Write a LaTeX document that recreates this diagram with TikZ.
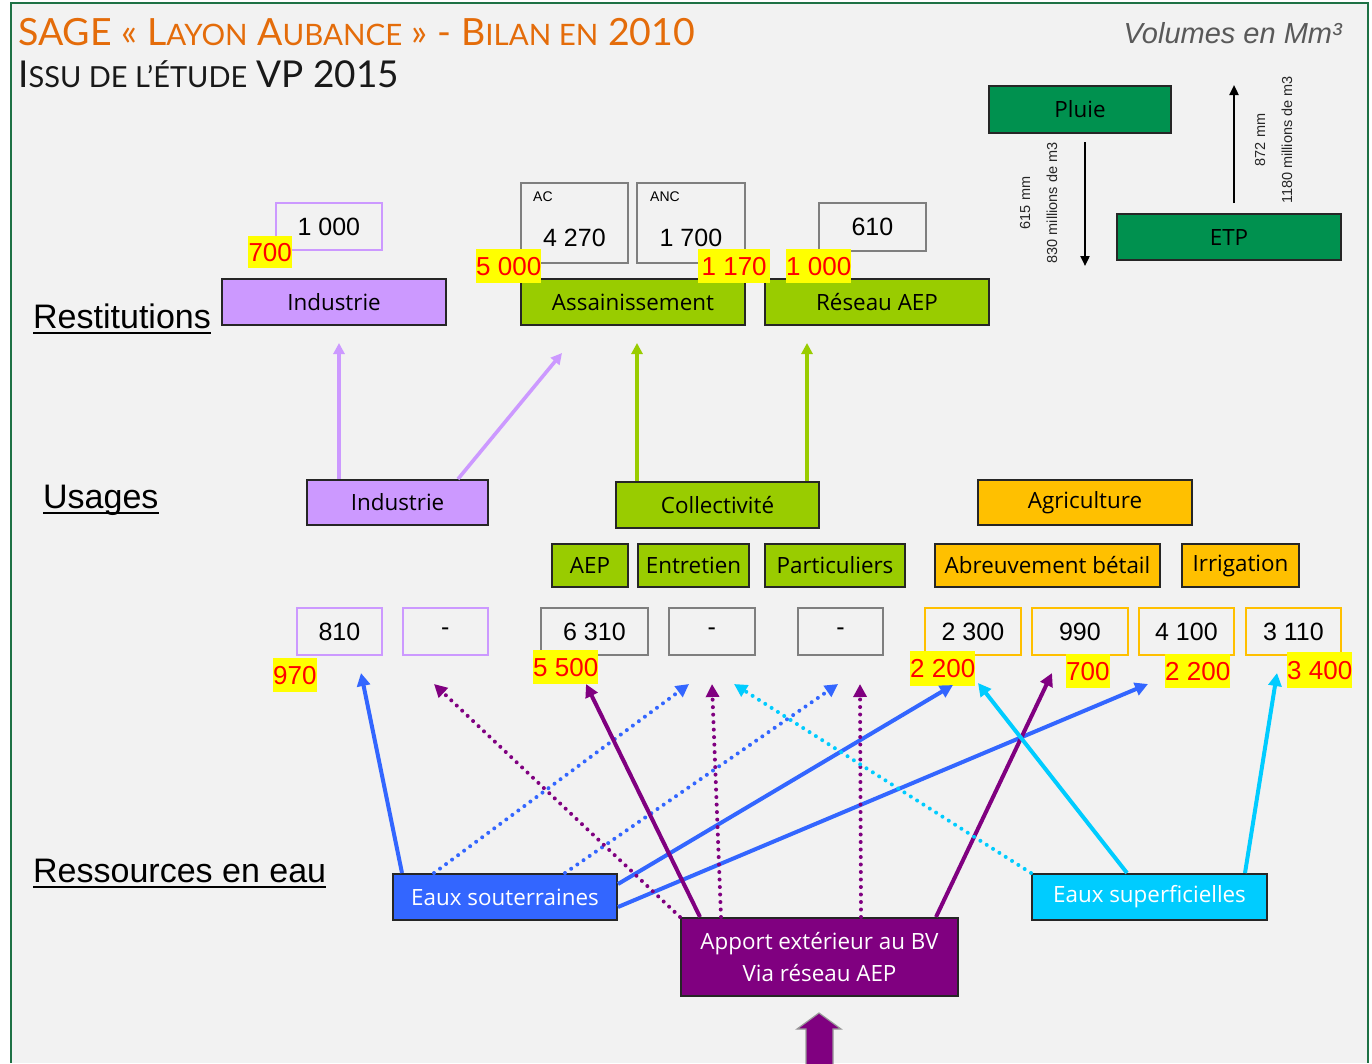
\documentclass[tikz,border=0pt]{standalone}
\usepackage{fontspec}
\setmainfont{Liberation Sans}
\newfontfamily\osans{Open Sans}
\newfontfamily\lato{Lato}
\usetikzlibrary{arrows.meta,calc}
\definecolor{bg}{HTML}{F2F2F2}
\definecolor{frame}{HTML}{1E7145}
\definecolor{ttl}{HTML}{E46C0A}
\definecolor{cpurple}{HTML}{CC99FF}
\definecolor{cgreen}{HTML}{99CC00}
\definecolor{cgold}{HTML}{FFC000}
\definecolor{cblue}{HTML}{3366FF}
\definecolor{ccyan}{HTML}{00CCFF}
\definecolor{cviolet}{HTML}{800080}
\definecolor{cdark}{HTML}{00914F}
\definecolor{boxline}{HTML}{262626}
\definecolor{vline}{HTML}{7F7F7F}
\definecolor{hly}{HTML}{FFFF00}
\definecolor{hlr}{HTML}{FF0000}
\newcommand\boxfont{\osans\fontsize{22.4}{26}\selectfont}
\newcommand\valfont{\fontsize{25}{28}\selectfont}
\newcommand\hlfont{\fontsize{26}{28}\selectfont}
\newcommand\secfont{\fontsize{34}{36}\selectfont}
\newcommand\rotfont{\fontsize{14.5}{16}\selectfont}
\newcommand\bigT{\fontsize{37.5}{40}\selectfont}
\newcommand\smT{\fontsize{29.5}{40}\selectfont}
\newcommand\bigU{\fontsize{37}{40}\selectfont}
\newcommand\smU{\fontsize{29}{40}\selectfont}
\tikzset{
  cbox/.style={draw=boxline, line width=2pt, anchor=north west, inner sep=0pt, font=\boxfont, align=center},
  vbox/.style={draw=vline, line width=1.8pt, fill=bg, anchor=north west, inner sep=0pt, font=\valfont, minimum height=47pt},
  hl/.style={fill=hly, text=hlr, anchor=north west, inner sep=0pt, font=\hlfont},
  sec/.style={anchor=base west, inner sep=0pt, font=\secfont},
  rot/.style={rotate=90, inner sep=0pt, font=\rotfont, text=black!85},
  up/.style={line width=3.6pt, -{Triangle[length=11pt,width=11pt]}},
  arr/.style={line width=4pt, -{Triangle[length=13pt,width=13pt]}},
  dotl/.style={arr, line cap=round, dash pattern=on 0pt off 7.5pt},
}
\begin{document}
\begin{tikzpicture}[x=1pt,y=-1pt]
\useasboundingbox (0,0) rectangle (1372,1063);
\fill[white] (0,0) rectangle (1372,1063);
\fill[bg] (11,3) rectangle (1368,1063);
\draw[frame, line width=2.2pt] (11,1063) -- (11,3) -- (1368,3) -- (1368,1063);

% titles
\node[anchor=base west, inner sep=0pt, text=ttl, font=\lato] (t1) at (18,45)
  {\bigT SAGE « L\smT AYON\bigT{} A\smT UBANCE\bigT{} » - B\smT ILAN EN\bigT{} 2010};
\node[anchor=base west, inner sep=0pt, text=black!90, font=\lato] (t2) at (18,87)
  {\bigU I\smU SSU DE L’ÉTUDE\bigU{} VP 2015};
\node[anchor=base east, inner sep=0pt, text=black!65, font=\fontsize{29}{30}\selectfont\itshape] (vol) at (1342,43) {Volumes en Mm³};

% section labels
\node[sec] (sRest) at (33,328) {Restitutions};
\node[sec] (sUsa) at (43,508) {Usages};
\node[sec] (sRes) at (33,882) {Ressources en eau};
\foreach \n in {sRest,sUsa,sRes}
  \draw[line width=1.9pt] ([yshift=-5pt]\n.base west) -- ([yshift=-5pt]\n.base east);

% Pluie / ETP
\node[cbox, fill=cdark, minimum width=182pt, minimum height=47pt] (pluie) at (988,85) {Pluie};
\node[cbox, fill=cdark, minimum width=224pt, minimum height=46pt] (etp) at (1116,213) {ETP};
\coordinate (pEnd) at (1085,266);
\coordinate (eEnd) at (1234,85);
\draw[line width=2.2pt, -{Triangle[length=10pt,width=9pt]}] ([yshift=-8pt]pluie.south -| pEnd) -- (pEnd);
\draw[line width=2.2pt, -{Triangle[length=10pt,width=9pt]}] ([yshift=10pt]etp.north -| eEnd) -- (eEnd);
\node[rot] (r1) at (1025,203) {615 mm};
\node[rot] (r2) at (1052,203) {830 millions de m3};
\node[rot] (r3) at (1260,140) {872 mm};
\node[rot] (r4) at (1287,140) {1180 millions de m3};

% Restitutions
\node[vbox, draw=cpurple, minimum width=106pt] (v1000) at (275,202) {1 000};
\node[cbox, fill=cpurple, minimum width=224pt, minimum height=46pt] (rInd) at (221,278) {Industrie};
\node[vbox, minimum width=107pt, minimum height=80pt] (vAC) at (520,182) {};
\node[vbox, minimum width=108pt, minimum height=80pt] (vANC) at (636,182) {};
\node[anchor=west, inner sep=0pt, font=\fontsize{14}{16}\selectfont] (lAC) at ([xshift=13pt,yshift=-15pt]vAC.north west) {AC};
\node[anchor=west, inner sep=0pt, font=\fontsize{14}{16}\selectfont] (lANC) at ([xshift=14pt,yshift=-15pt]vANC.north west) {ANC};
\node[inner sep=0pt, font=\valfont] (nAC) at ([yshift=-56pt]vAC.north) {4 270};
\node[inner sep=0pt, font=\valfont] (nANC) at ([yshift=-56pt]vANC.north) {1 700};
\node[cbox, fill=cgreen, minimum width=224pt, minimum height=46pt] (rAss) at (520,278) {Assainissement};
\node[vbox, minimum width=107pt, minimum height=48pt] (v610) at (818,202) {610};
\node[cbox, fill=cgreen, minimum width=224pt, minimum height=46pt] (rAEP) at (764,278) {Réseau AEP};
\node[hl, minimum width=44pt, minimum height=32pt] (h700) at (248,236) {700};
\node[hl, minimum width=65pt, minimum height=34pt] (h5000) at (476,249) {5 000};
\node[hl, minimum width=72pt, minimum height=34pt] (h1170) at (698,249) {1 170};
\node[hl, minimum width=65pt, minimum height=34pt] (h1000) at (786,249) {1 000};

% Usages
\node[cbox, fill=cpurple, minimum width=181pt, minimum height=45pt] (uInd) at (306,479) {Industrie};
\node[cbox, fill=cgreen, minimum width=203pt, minimum height=46pt] (uCol) at (615,481) {Collectivité};
\node[cbox, fill=cgold, minimum width=214pt, minimum height=45pt] (uAgr) at (977,479) {Agriculture};
\node[cbox, fill=cgreen, minimum width=76pt, minimum height=43pt] (uAEP) at (551,543) {AEP};
\node[cbox, fill=cgreen, minimum width=111pt, minimum height=43pt] (uEnt) at (637,543) {Entretien};
\node[cbox, fill=cgreen, minimum width=140pt, minimum height=43pt] (uPart) at (764,543) {Particuliers};
\node[cbox, fill=cgold, minimum width=225pt, minimum height=43pt] (uAbr) at (934,543) {Abreuvement bétail};
\node[cbox, fill=cgold, minimum width=117pt, minimum height=43pt] (uIrr) at (1181,543) {Irrigation};

% restitution arrows
\coordinate (ra1) at (339,343);
\coordinate (ra2) at (562,353);
\coordinate (ra3) at (637,343);
\coordinate (ra4) at (807,343);
\draw[up, cpurple] (uInd.north -| ra1) -- (ra1);
\draw[up, cpurple] ([xshift=152pt]uInd.north west) -- (ra2);
\draw[up, cgreen] (uCol.north -| ra3) -- (ra3);
\draw[up, cgreen] (uCol.north -| ra4) -- (ra4);

% value boxes
\node[vbox, draw=cpurple, minimum width=85pt] (q810) at (296,607) {810};
\node[vbox, draw=cpurple, minimum width=85pt] (qInd) at (402,607) {-};
\node[vbox, minimum width=107pt] (q6310) at (540,607) {6 310};
\node[vbox, minimum width=86pt] (qEnt) at (668,607) {-};
\node[vbox, minimum width=85pt] (qPart) at (797,607) {-};
\node[vbox, draw=cgold, minimum width=96pt] (q2300) at (924,607) {2 300};
\node[vbox, draw=cgold, minimum width=96pt] (q990) at (1031,607) {990};
\node[vbox, draw=cgold, minimum width=95pt] (q4100) at (1138,607) {4 100};
\node[vbox, draw=cgold, minimum width=95pt] (q3110) at (1245,607) {3 110};
\node[hl, minimum width=43pt, minimum height=34pt] (h970) at (273,658) {970};
\node[hl, minimum width=65pt, minimum height=34pt] (h5500) at (533,650) {5 500};
\node[hl, minimum width=64pt, minimum height=35pt] (h2200a) at (910,651) {2 200};
\node[hl, minimum width=43pt, minimum height=34pt] (h700b) at (1066,654) {700};
\node[hl, minimum width=64pt, minimum height=34pt] (h2200b) at (1165,654) {2 200};
\node[hl, minimum width=65pt, minimum height=36pt] (h3400) at (1287,652) {3 400};

% resources
\node[cbox, fill=cblue, text=white, minimum width=224pt, minimum height=46pt] (es) at (392,873) {Eaux souterraines};
\node[cbox, fill=ccyan, text=white, minimum width=235pt, minimum height=46pt] (esup) at (1031,873) {Eaux superficielles};
\node[cbox, fill=cviolet, text=white, minimum width=277pt, minimum height=78pt, font=\boxfont\linespread{1.2}\selectfont] (apport) at (680,917) {Apport extérieur au BV\\Via réseau AEP};

% arrow ends
\coordinate (e810) at (361,673);
\coordinate (eInd) at (434,684);
\coordinate (eEnt) at (689,684);
\coordinate (ePart) at (838,684);
\coordinate (e2300) at (953,685);
\coordinate (e4100) at (1148,684);
\coordinate (e6310) at (586,684);
\coordinate (eEnt2) at (712,684);
\coordinate (ePart2) at (860,684);
\coordinate (e990) at (1052,673);
\coordinate (eEntC) at (734,684);
\coordinate (e2300c) at (978,683);
\coordinate (e3110) at (1277,673);

% blue
\draw[arr, cblue] ([xshift=10pt]es.north west) -- (e810);
\draw[dotl, cblue] ([xshift=42pt]es.north west) -- (eEnt);
\draw[dotl, cblue] ([xshift=173pt]es.north west) -- (ePart);
\draw[arr, cblue] ([yshift=-11pt]es.north east) -- (e2300);
\draw[arr, cblue] ([yshift=-34pt]es.north east) -- (e4100);
% violet
\draw[dotl, cviolet] (apport.north west) -- (eInd);
\draw[arr, cviolet] ([xshift=20pt]apport.north west) -- (e6310);
\draw[dotl, cviolet] ([xshift=41pt]apport.north west) -- (eEnt2);
\draw[dotl, cviolet] ([xshift=181pt]apport.north west) -- (ePart2);
\draw[arr, cviolet] ([xshift=256pt]apport.north west) -- (e990);
% cyan
\draw[dotl, ccyan] (esup.north west) -- (eEntC);
\draw[arr, ccyan] ([xshift=96pt]esup.north west) -- (e2300c);
\draw[arr, ccyan] ([xshift=214pt]esup.north west) -- (e3110);

% big incoming arrow
\filldraw[fill=cviolet, draw=black!40, line width=1.2pt]
  (819,1013) -- (841,1029) -- (833,1029) -- (833,1070) -- (806,1070) -- (806,1029) -- (797,1029) -- cycle;
\end{tikzpicture}
\end{document}
